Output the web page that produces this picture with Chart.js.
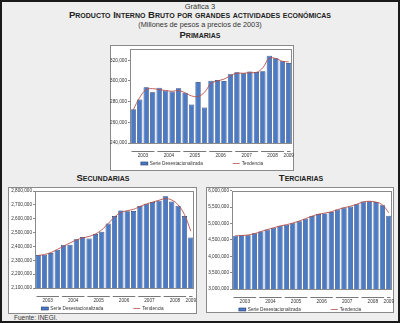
<!DOCTYPE html>
<html>
<head>
<meta charset="utf-8">
<script src="https://cdn.jsdelivr.net/npm/chart.js@4"></script>
<style>
  body { margin: 0; }
  #page { position: relative; width: 400px; height: 323px; background: #eeeeee; box-shadow: inset 0 0 0 2px #1a1a1a; font-family: "Liberation Sans", Arial, sans-serif; overflow: hidden; }
  .t { position: absolute; left: 0; width: 400px; text-align: center; color: #333; white-space: nowrap; line-height: 1; }
  .h { font-size: 9.5px; font-weight: bold; font-variant: small-caps; color: #222; }
  .box { position: absolute; background: #fff; border: 1px solid #8a8a8a; box-sizing: border-box; }
  canvas { position: absolute; }
</style>
</head>
<body>
<div id="page">
  <div class="t" style="top:3px;font-size:7.5px;">Gráfica 3</div>
  <div class="t h" style="top:10px;">Producto Interno Bruto por grandes actividades económicas</div>
  <div class="t" style="top:20.5px;font-size:7.3px;">(Millones de pesos a precios de 2003)</div>
  <div class="t h" style="top:29.5px;">Primarias</div>
  <div class="t h" style="top:172.5px;left:-97px;">Secundarias</div>
  <div class="t h" style="top:172.5px;left:101px;">Terciarias</div>
  <div class="t" style="top:314.5px;left:14px;width:auto;font-size:6.5px;">Fuente: INEGI.</div>

  <div class="box" style="left:110px;top:45px;width:184px;height:126px;"></div>
  <canvas id="primarias" width="184" height="126" style="left:110px;top:45px;"></canvas>
  <div class="box" style="left:8px;top:187px;width:189px;height:127px;"></div>
  <canvas id="secundarias" width="189" height="127" style="left:8px;top:187px;"></canvas>
  <div class="box" style="left:206px;top:187px;width:188px;height:126px;"></div>
  <canvas id="terciarias" width="188" height="126" style="left:206px;top:187px;"></canvas>
</div>
<script>
const quarters = ['I', 'II', 'III', 'IV', 'I', 'II', 'III', 'IV', 'I', 'II', 'III', 'IV', 'I', 'II', 'III', 'IV', 'I', 'II', 'III', 'IV', 'I', 'II', 'III', 'IV', 'I'];
const years = ['2003', '2004', '2005', '2006', '2007', '2008', '2009'];
const quartersPerYear = [4, 4, 4, 4, 4, 4, 1];

const primariasSerie = [272700, 282100, 293800, 289100, 293500, 290700, 289700, 292900, 288500, 277100, 298900, 274300, 300100, 300800, 299800, 306400, 308300, 307400, 309000, 308600, 309300, 324400, 321900, 319000, 317200];
const primariasTendencia = [272000, 284000, 291500, 292500, 291600, 290700, 290000, 290700, 288500, 285500, 285000, 289000, 297600, 300000, 301700, 305000, 307400, 307400, 308000, 308200, 312700, 322000, 321600, 319000, 318400];
const primariasTicks = [240000, 260000, 280000, 300000, 320000];

const secundariasSerie = [2338000, 2340000, 2352000, 2376000, 2411000, 2412000, 2452000, 2468000, 2457000, 2490000, 2506000, 2566000, 2620000, 2660000, 2654000, 2655000, 2692000, 2708000, 2720000, 2730000, 2762000, 2724000, 2694000, 2620000, 2464000];
const secundariasTendencia = [2335000, 2342000, 2356000, 2378000, 2402000, 2425000, 2446000, 2462000, 2472000, 2490000, 2520000, 2565000, 2612000, 2645000, 2658000, 2668000, 2688000, 2706000, 2720000, 2733000, 2745000, 2735000, 2700000, 2630000, 2510000];
const secundariasTicks = [2100000, 2200000, 2300000, 2400000, 2500000, 2600000, 2700000, 2800000];

const terciariasSerie = [4630000, 4640000, 4640000, 4700000, 4760000, 4820000, 4870000, 4930000, 4960000, 5010000, 5070000, 5150000, 5230000, 5290000, 5310000, 5350000, 5430000, 5490000, 5520000, 5590000, 5670000, 5680000, 5660000, 5560000, 5240000];
const terciariasTendencia = [4625000, 4635000, 4650000, 4692000, 4752000, 4815000, 4870000, 4925000, 4965000, 5015000, 5078000, 5150000, 5225000, 5285000, 5320000, 5360000, 5425000, 5482000, 5530000, 5590000, 5660000, 5680000, 5655000, 5570000, 5330000];
const terciariasTicks = [3000000, 3500000, 4000000, 4500000, 5000000, 5500000, 6000000];

Chart.defaults.font.family = "'Liberation Sans', Arial, sans-serif";
Chart.defaults.font.size = 4.7;
Chart.defaults.color = '#333';

// frame around the plot, year groups under the quarters, and the legend
const decorPlugin = {
    id: 'decor',
    afterDraw(chart) {
        const ctx = chart.ctx;
        const area = chart.chartArea;
        const x = chart.scales.x;
        const catW = x.getPixelForValue(1) - x.getPixelForValue(0);

        ctx.save();
        ctx.strokeStyle = '#8a8a8a';
        ctx.lineWidth = 1;
        ctx.strokeRect(Math.round(area.left) + 0.5, Math.round(area.top) + 0.5, Math.round(area.right - area.left) - 1, Math.round(area.bottom - area.top));

        ctx.font = "4.7px 'Liberation Sans', Arial, sans-serif";
        ctx.fillStyle = '#333';
        ctx.textAlign = 'center';
        ctx.textBaseline = 'middle';
        let start = 0;
        years.forEach((year, i) => {
            const n = quartersPerYear[i];
            const x1 = x.getPixelForValue(start) - catW / 2 + 1.5;
            const x2 = x.getPixelForValue(start + n - 1) + catW / 2 - 1.5;
            ctx.strokeStyle = '#555';
            ctx.lineWidth = 0.8;
            ctx.beginPath();
            ctx.moveTo(x1, area.bottom + 8.5);
            ctx.lineTo(x2, area.bottom + 8.5);
            ctx.stroke();
            ctx.fillText(year, (x1 + x2) / 2, area.bottom + 12.5);
            start += n;
        });

        // legend
        const ds = chart.data.datasets;
        const y = area.bottom + 20.5;
        const w1 = ctx.measureText(ds[1].label).width;
        const w2 = ctx.measureText(ds[0].label).width;
        const total = 7 + 2 + w1 + 30 + 7 + 2 + w2;
        let lx = chart.width / 2 - total / 2;
        ctx.textAlign = 'left';
        ctx.fillStyle = ds[1].backgroundColor;
        ctx.fillRect(lx, y - 1.5, 7, 3);
        ctx.strokeStyle = ds[1].borderColor;
        ctx.lineWidth = 0.6;
        ctx.strokeRect(lx, y - 1.5, 7, 3);
        ctx.fillStyle = '#333';
        ctx.fillText(ds[1].label, lx + 9, y);
        lx += 9 + w1 + 30;
        ctx.strokeStyle = ds[0].borderColor;
        ctx.lineWidth = 0.8;
        ctx.beginPath();
        ctx.moveTo(lx, y);
        ctx.lineTo(lx + 7, y);
        ctx.stroke();
        ctx.fillText(ds[0].label, lx + 9, y);
        ctx.restore();
    }
};

function makeChart(id, serie, tendencia, yMin, yMax, yTicks, yWidth, pad) {
    return new Chart(document.getElementById(id), {
        type: 'bar',
        data: {
            labels: quarters,
            datasets: [{
                type: 'line',
                label: 'Tendencia',
                data: tendencia,
                borderColor: '#b5504c',
                backgroundColor: '#b5504c',
                borderWidth: 0.9,
                pointRadius: 0,
                tension: 0.4,
                order: 0
            },
            {
                label: 'Serie Desestacionalizada',
                data: serie,
                backgroundColor: '#4c7bc5',
                borderColor: '#22386e',
                borderWidth: 0.7,
                barPercentage: 0.82,
                categoryPercentage: 1,
                order: 1
            }
            ]
        },
        options: {
            responsive: false,
            animation: false,
            layout: { padding: pad },
            plugins: {
                legend: { display: false },
                tooltip: { enabled: false }
            },
            scales: {
                x: {
                    grid: { display: false },
                    border: { display: false },
                    ticks: { padding: 2, maxRotation: 0, autoSkip: false, font: { size: 4 } },
                    afterFit: (axis) => { axis.height = 7; }
                },
                y: {
                    min: yMin,
                    max: yMax,
                    grid: { drawOnChartArea: false, tickLength: 2, color: '#888' },
                    border: { display: false },
                    ticks: {
                        autoSkip: false,
                        padding: 1,
                        callback: (v) => v.toLocaleString('en-US')
                    },
                    afterBuildTicks: (axis) => {
                        axis.ticks = yTicks.map((v) => ({ value: v }));
                    },
                    afterFit: (axis) => { axis.width = yWidth; }
                }
            }
        },
        plugins: [decorPlugin]
    });
}

makeChart('primarias', primariasSerie, primariasTendencia, 240000, 331000, primariasTicks, 20, { left: 0, top: 2, right: 2, bottom: 21 });
makeChart('secundarias', secundariasSerie, secundariasTendencia, 2100000, 2800000, secundariasTicks, 27, { left: 0, top: 4, right: 3, bottom: 19 });
makeChart('terciarias', terciariasSerie, terciariasTendencia, 3000000, 6000000, terciariasTicks, 26, { left: 0, top: 3, right: 2, bottom: 17 });
</script>
</body>
</html>
